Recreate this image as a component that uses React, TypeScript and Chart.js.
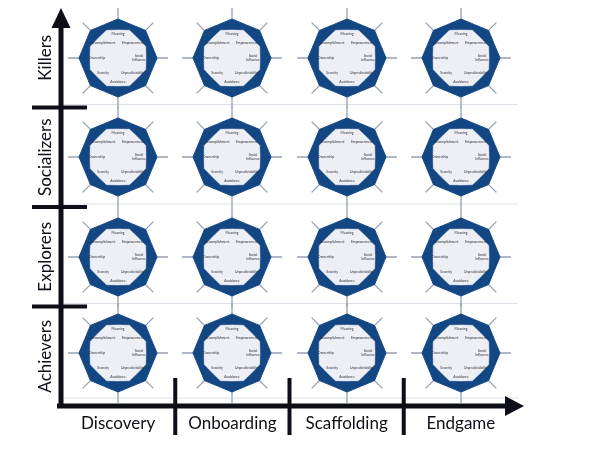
import { useEffect, useRef } from "react";
import { Chart, registerables } from "chart.js";
import type { Plugin } from "chart.js";

Chart.register(...registerables);

// columns (x axis) and rows (y axis)
const stages = ["Discovery", "Onboarding", "Scaffolding", "Endgame"];
const playerTypes = ["Killers", "Socializers", "Explorers", "Achievers"];

// 8 core drives clockwise from the top, blank entries sit between the spokes
const drives = [
  "Meaning", "", "Empowerment", "", "Social Influence", "", "Unpredictability", "",
  "Avoidance", "", "Scarcity", "", "Ownership", "", "Accomplishment", "",
];
// dark outer octagon (corners on the spokes)
const outerRing = [39, 36, 39, 36, 39, 36, 39, 36, 39, 36, 39, 36, 39, 36, 39, 36];
// light inner octagon (corners between the spokes)
const innerRing = [28, 30, 28, 30, 28, 30, 28, 30, 28, 30, 28, 30, 28, 30, 28, 30];

const PLOT = { left: 61, top: 8, width: 457, height: 398 };
const RADAR_SIZE = 100;
const INK = "#0e0e18";
const FONT = "Lato, 'Open Sans', sans-serif";

const driveLabels: Plugin<"radar"> = {
  id: "driveLabels",
  afterDatasetsDraw(chart) {
    const scale: any = chart.scales.r;
    const ctx = chart.ctx;
    ctx.save();
    ctx.fillStyle = "#33333d";
    ctx.font = `3.4px ${FONT}`;
    ctx.textAlign = "center";
    ctx.textBaseline = "middle";
    drives.forEach((label, i) => {
      if (!label) return;
      const r = i % 8 === 0 ? 24 : 21;
      const p = scale.getPointPosition(i, scale.getDistanceFromCenterForValue(r));
      const lines = label.split(" ");
      lines.forEach((line, k) => {
        ctx.fillText(line, p.x, p.y + (k - (lines.length - 1) / 2) * 4);
      });
    });
    ctx.restore();
  },
};

function DriveRadar() {
  const ref = useRef<HTMLCanvasElement | null>(null);

  useEffect(() => {
    if (!ref.current) return;
    const chart = new Chart(ref.current, {
      type: "radar",
      data: {
        labels: drives,
        datasets: [
          {
            data: innerRing,
            fill: true,
            backgroundColor: "#eeeef5",
            borderColor: "#eeeef5",
            borderWidth: 0.5,
            pointRadius: 0,
          },
          {
            data: outerRing,
            fill: true,
            backgroundColor: "#134784",
            borderColor: "#134784",
            borderWidth: 1,
            pointRadius: 0,
          },
        ],
      },
      options: {
        responsive: false,
        animation: false,
        events: [],
        elements: { line: { tension: 0 } },
        plugins: { legend: { display: false }, tooltip: { enabled: false } },
        scales: {
          r: {
            min: 0,
            max: 50,
            ticks: { display: false },
            grid: { display: false },
            pointLabels: { display: false },
            angleLines: {
              color: (c: any) => (c.index % 2 === 0 ? "#94a0b0" : "rgba(0,0,0,0)"),
              lineWidth: 1.3,
            },
          },
        },
      },
      plugins: [driveLabels],
    });
    return () => chart.destroy();
  }, []);

  return <canvas ref={ref} width={RADAR_SIZE} height={RADAR_SIZE} />;
}

const frameDecor: Plugin<"scatter"> = {
  id: "frameDecor",
  afterDraw(chart) {
    const { ctx, chartArea: a } = chart;
    const x: any = chart.scales.x;
    const y: any = chart.scales.y;
    const rowEdges = [0, 1, 2].map((i) => (y.getPixelForValue(i) + y.getPixelForValue(i + 1)) / 2);
    const colEdges = [0, 1, 2].map((i) => (x.getPixelForValue(i) + x.getPixelForValue(i + 1)) / 2);
    ctx.save();

    // faint row separators
    ctx.strokeStyle = "#dfe1ea";
    ctx.lineWidth = 1;
    [...rowEdges, a.bottom - 5].forEach((py) => {
      ctx.beginPath();
      ctx.moveTo(a.left, py - 3);
      ctx.lineTo(a.right, py - 3);
      ctx.stroke();
    });

    ctx.strokeStyle = INK;
    ctx.fillStyle = INK;
    ctx.lineCap = "butt";

    // axes
    ctx.lineWidth = 5;
    ctx.beginPath();
    ctx.moveTo(a.left, a.bottom + 2.5);
    ctx.lineTo(a.left, a.top + 18);
    ctx.moveTo(a.left - 4, a.bottom);
    ctx.lineTo(a.right - 10, a.bottom);
    ctx.stroke();

    // arrow heads
    ctx.beginPath();
    ctx.moveTo(a.left, a.top);
    ctx.lineTo(a.left + 9.5, a.top + 20);
    ctx.lineTo(a.left - 9.5, a.top + 20);
    ctx.closePath();
    ctx.fill();
    ctx.beginPath();
    ctx.moveTo(a.right + 6, a.bottom);
    ctx.lineTo(a.right - 13, a.bottom - 10);
    ctx.lineTo(a.right - 13, a.bottom + 10);
    ctx.closePath();
    ctx.fill();

    // dividers across the axes
    ctx.lineWidth = 4;
    rowEdges.forEach((py) => {
      ctx.beginPath();
      ctx.moveTo(a.left - 29, py);
      ctx.lineTo(a.left + 26, py);
      ctx.stroke();
    });
    colEdges.forEach((px) => {
      ctx.beginPath();
      ctx.moveTo(px, a.bottom - 28);
      ctx.lineTo(px, a.bottom + 29);
      ctx.stroke();
    });

    // category labels
    ctx.font = `17px ${FONT}`;
    ctx.textAlign = "center";
    ctx.textBaseline = "middle";
    stages.forEach((s, i) => ctx.fillText(s, x.getPixelForValue(i), a.bottom + 18));
    playerTypes.forEach((p, i) => {
      ctx.save();
      ctx.translate(a.left - 15, y.getPixelForValue(i));
      ctx.rotate(-Math.PI / 2);
      ctx.fillText(p, 0, 0);
      ctx.restore();
    });
    ctx.restore();
  },
};

function Frame() {
  const ref = useRef<HTMLCanvasElement | null>(null);

  useEffect(() => {
    if (!ref.current) return;
    const chart = new Chart(ref.current, {
      type: "scatter",
      data: { datasets: [] },
      options: {
        responsive: false,
        animation: false,
        events: [],
        layout: {
          padding: {
            left: PLOT.left,
            top: PLOT.top,
            right: 600 - PLOT.left - PLOT.width,
            bottom: 450 - PLOT.top - PLOT.height,
          },
        },
        plugins: { legend: { display: false }, tooltip: { enabled: false } },
        scales: {
          x: { type: "category", labels: stages, offset: true, display: false },
          y: { type: "category", labels: playerTypes, offset: true, display: false },
        },
      },
      plugins: [frameDecor],
    });
    return () => chart.destroy();
  }, []);

  return <canvas ref={ref} width={600} height={450} />;
}

export default function App() {
  const colW = PLOT.width / stages.length;
  const rowH = PLOT.height / playerTypes.length;
  return (
    <div style={{ position: "absolute", left: 0, top: 0, width: 600, height: 450, background: "#fff" }}>
      <div style={{ position: "absolute", left: 0, top: 0 }}>
        <Frame />
      </div>
      {playerTypes.map((p, r) =>
        stages.map((s, c) => (
          <div
            key={`${p}-${s}`}
            style={{
              position: "absolute",
              left: Math.round(PLOT.left + (c + 0.5) * colW - RADAR_SIZE / 2),
              top: Math.round(PLOT.top + (r + 0.5) * rowH - RADAR_SIZE / 2) - (r === 3 ? 3 : 0),
              width: RADAR_SIZE,
              height: RADAR_SIZE,
              lineHeight: 0,
            }}
          >
            <DriveRadar />
          </div>
        ))
      )}
    </div>
  );
}
